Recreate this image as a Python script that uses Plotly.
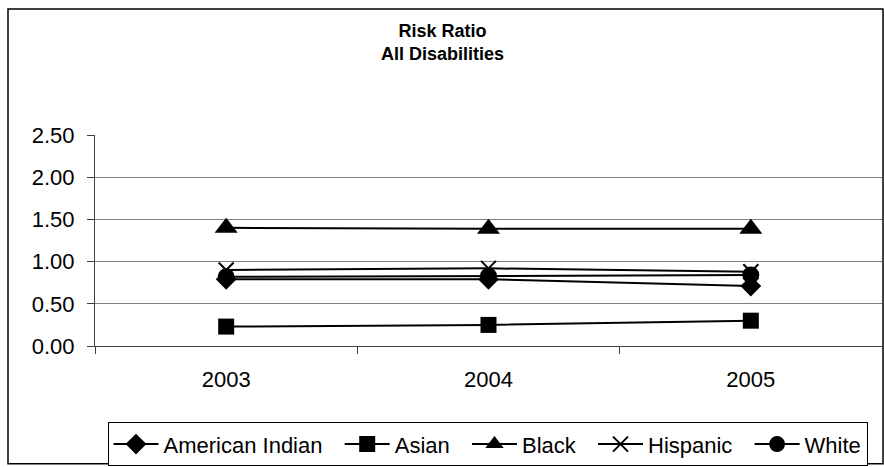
import plotly.graph_objects as go

years = ["2003", "2004", "2005"]
american_indian = [0.79, 0.79, 0.71]
asian = [0.23, 0.25, 0.30]
black = [1.40, 1.39, 1.39]
hispanic = [0.90, 0.92, 0.88]
white = [0.82, 0.83, 0.84]

series = [
    ("American Indian", american_indian, "diamond", 16),
    ("Asian", asian, "square", 16),
    ("Black", black, "triangle-up", 20),
    ("Hispanic", hispanic, "x-thin", 15),
    ("White", white, "circle", 17),
]

W, H = 884, 467
L, R, T, B = 95, 882, 135, 347.5
PLOT_H = B - T

def py(pixel_y):
    """Paper-y coordinate for a pixel row of the figure."""
    return (B - pixel_y) / PLOT_H

def px(pixel_x):
    """Paper-x coordinate for a pixel column of the figure."""
    return (pixel_x - L) / (R - L)

NBSP = "\u00a0"

fig = go.Figure()
for i, (name, vals, sym, size) in enumerate(series):
    marker = dict(symbol=sym, size=size, color="black")
    if sym == "x-thin":
        marker["line"] = dict(color="black", width=2)
    label = name if i == len(series) - 1 else name + NBSP * 2
    fig.add_trace(go.Scatter(
        x=years, y=vals, name=label, mode="lines+markers",
        line=dict(color="black", width=2), marker=marker,
        hovertemplate=name + ": %{y:.2f}<extra></extra>",
    ))

font_family = "Liberation Sans, Arial, sans-serif"

fig.update_layout(
    width=W, height=H,
    margin=dict(l=L, r=W - R, t=T, b=H - B),
    paper_bgcolor="white", plot_bgcolor="white",
    font=dict(family=font_family, color="black", size=22),
    annotations=[dict(
        text="<b>Risk Ratio<br>All Disabilities</b>",
        xref="paper", yref="paper", x=px(442), y=py(41.5),
        xanchor="center", yanchor="middle", showarrow=False,
        font=dict(family=font_family, size=18, color="black"),
    )],
    showlegend=True,
    legend=dict(
        orientation="h", x=px(487.5), xanchor="center",
        y=py(423), yanchor="top",
        bordercolor="black", borderwidth=1,
        font=dict(family=font_family, size=22, color="black"),
        traceorder="normal", itemwidth=45,
    ),
    xaxis=dict(
        type="category", range=[-0.5, 2.5], tickson="boundaries",
        ticks="outside", ticklen=7, tickcolor="#404040",
        showline=True, linecolor="#404040", linewidth=1,
        showgrid=False, zeroline=False, ticklabelstandoff=14,
        tickfont=dict(size=22),
    ),
    yaxis=dict(
        range=[0, 2.5], dtick=0.5, tickformat=".2f",
        ticks="outside", ticklen=7, tickcolor="#404040",
        showline=True, linecolor="#404040", linewidth=1,
        showgrid=True, gridcolor="#808080", gridwidth=1,
        zeroline=False, tickfont=dict(size=22), ticklabelstandoff=8,
    ),
    shapes=[dict(
        type="rect", xref="paper", yref="paper",
        x0=px(8), x1=px(883), y0=py(466), y1=py(8),
        line=dict(color="black", width=1.5), fillcolor="rgba(0,0,0,0)", layer="below",
    )],
)

fig.write_html("out.html")
